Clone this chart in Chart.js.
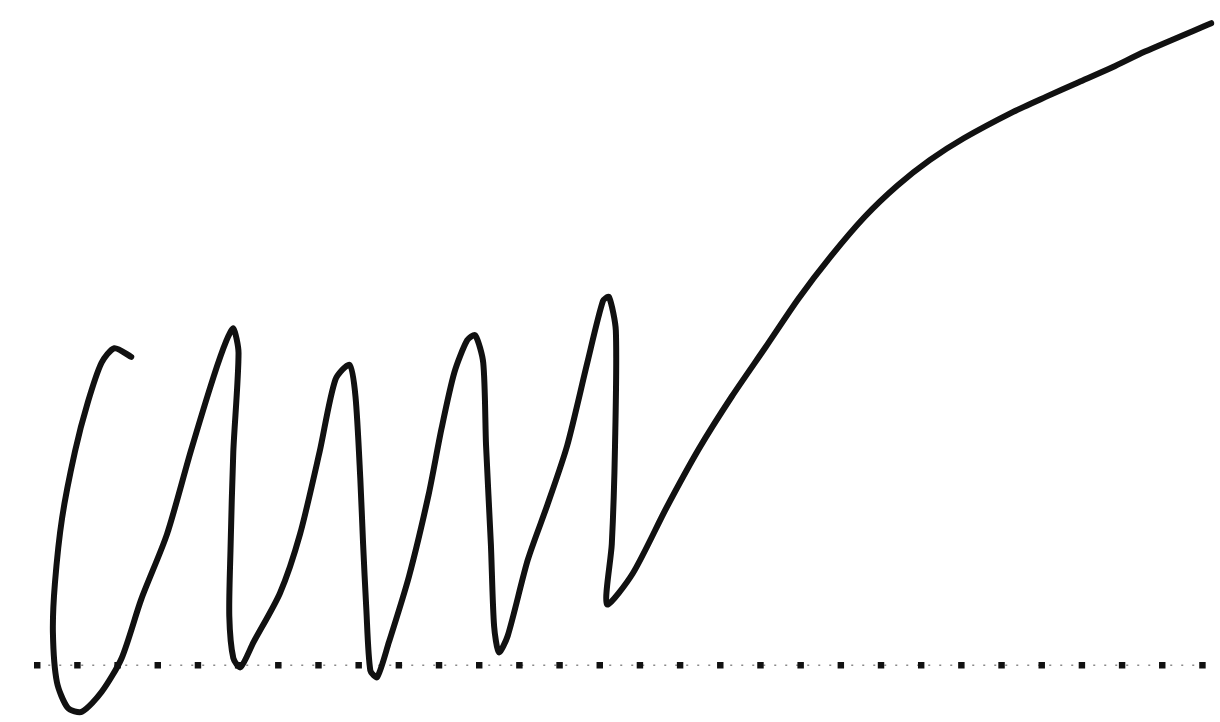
<!DOCTYPE html>
<html>
<head>
<meta charset="utf-8">
<script src="https://cdn.jsdelivr.net/npm/chart.js@4/dist/chart.umd.min.js"></script>
<style>
  html, body { margin: 0; padding: 0; background: #fff; }
  #chart { display: block; }
</style>
</head>
<body>
<canvas id="chart" width="1220" height="722"></canvas>
<script>
// stroke
var strokeX = [2.34, 1.92, 1.60, 1.26, 0.94, 0.62, 0.44, 0.39, 0.49, 0.76, 1.11, 1.60, 2.10, 2.59, 3.23, 3.82, 4.39, 4.71, 4.88,
  5.01, 4.88, 4.81, 4.78, 4.88, 5.06, 5.38, 6.04, 6.54, 7.03, 7.42, 7.77,
  7.92, 8.04, 8.11, 8.19, 8.29, 8.46, 8.75, 9.25, 9.74, 10.06, 10.38, 10.70, 10.90,
  11.10, 11.17, 11.29, 11.37, 11.49, 11.71, 12.21, 12.70, 13.19, 13.69, 14.08, 14.23,
  14.40, 14.38, 14.30, 14.18, 14.82, 15.66, 16.47, 17.29, 18.13, 18.94, 19.75, 20.59,
  21.41, 22.22, 23.06, 24.29, 25.10, 25.92, 26.76, 27.57, 29.22];
var strokeY = [7.83, 8.05, 7.68, 6.68, 5.43, 3.75, 2.08, 0.83, -0.43, -1.08, -1.18, -0.68, 0.18, 1.68, 3.33, 5.43, 7.33, 8.25, 8.55,
  7.93, 5.43, 2.93, 1.25, 0.18, -0.05, 0.58, 1.83, 3.33, 5.43, 7.25, 7.63,
  6.83, 4.75, 3.08, 1.43, -0.13, -0.30, 0.58, 2.25, 4.33, 6.00, 7.43, 8.25, 8.38,
  7.68, 5.58, 3.08, 1.00, 0.33, 0.75, 2.68, 4.08, 5.58, 7.68, 9.25, 9.35,
  8.50, 5.58, 3.08, 1.55, 2.33, 4.00, 5.50, 6.83, 8.08, 9.30, 10.38, 11.38,
  12.18, 12.83, 13.38, 14.05, 14.43, 14.80, 15.18, 15.58, 16.30];

// row of square markers along the base
var baseX = [0, 1, 2, 3, 4, 5, 6, 7, 8, 9, 10, 11, 12, 13, 14, 15, 16, 17, 18, 19,
  20, 21, 22, 23, 24, 25, 26, 27, 28, 29];
var baseY = [0, 0, 0, 0, 0, 0, 0, 0, 0, 0, 0, 0, 0, 0, 0, 0, 0, 0, 0, 0,
  0, 0, 0, 0, 0, 0, 0, 0, 0, 0];

var stroke = [];
for (var i = 0; i < strokeX.length; i++) {
  stroke.push({ x: strokeX[i], y: strokeY[i] });
}
var base = [];
for (var j = 0; j < baseX.length; j++) {
  base.push({ x: baseX[j], y: baseY[j] });
}

var ctx = document.getElementById('chart').getContext('2d');
var myChart = new Chart(ctx, {
  type: 'scatter',
  data: {
    datasets: [{
      data: stroke,
      showLine: true,
      borderColor: '#111',
      borderWidth: 6,
      borderCapStyle: 'round',
      borderJoinStyle: 'round',
      tension: 0.25,
      pointRadius: 0,
      order: 1
    }, {
      data: base,
      showLine: true,
      borderColor: '#8a8a8a',
      borderWidth: 1.5,
      borderDash: [2, 9],
      pointStyle: 'rect',
      pointRadius: 3.5,
      pointBackgroundColor: '#111',
      pointBorderColor: '#111',
      order: 2
    }]
  },
  options: {
    responsive: false,
    animation: false,
    layout: { padding: 0 },
    plugins: {
      legend: { display: false },
      tooltip: { enabled: false }
    },
    scales: {
      x: { type: 'linear', min: -0.79, max: 29.3, display: false },
      y: { type: 'linear', min: -1.3, max: 16.75, display: false }
    }
  }
});
</script>
</body>
</html>
